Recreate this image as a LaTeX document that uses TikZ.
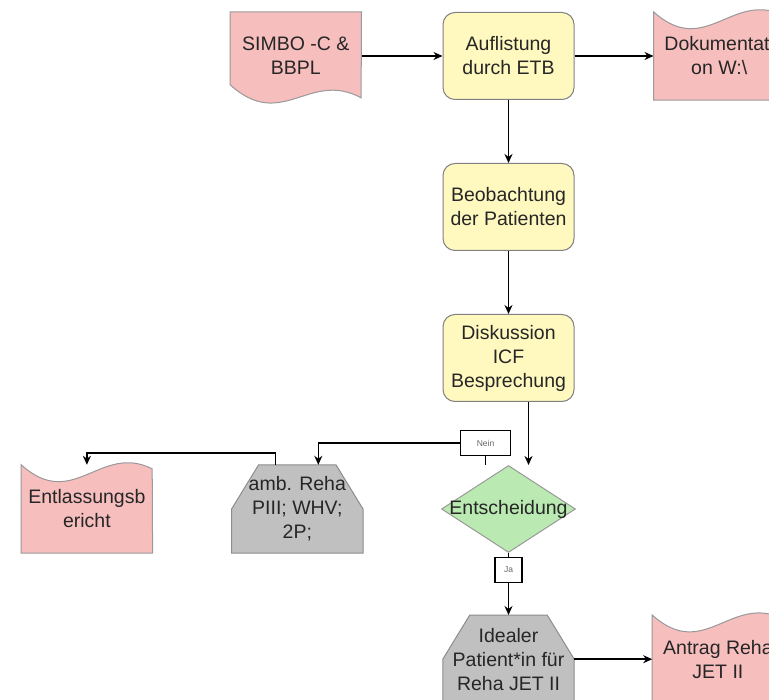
\documentclass[tikz,border=0pt]{standalone}
\usepackage{fontspec}
\setmainfont{Liberation Sans}
\usetikzlibrary{positioning,shapes.geometric,backgrounds,arrows.meta}

\definecolor{procyellow}{RGB}{255,249,192}
\definecolor{docpink}{RGB}{247,190,190}
\definecolor{decgreen}{RGB}{186,234,178}
\definecolor{hexgray}{RGB}{192,192,192}

\begin{document}
\begin{tikzpicture}[x=1pt,y=-1pt,>={Stealth[length=9pt,width=8pt]},
    every node/.style={font=\fontsize{19.5}{24}\selectfont, text=black!85, align=center, inner sep=2pt},
    proc/.style={rectangle, rounded corners=12pt, draw=black!50, fill=procyellow,
        line width=1pt, minimum width=131pt, minimum height=87pt},
    box/.style={minimum width=131pt, minimum height=88pt},
    decision/.style={diamond, draw=black!40, fill=decgreen, line width=1pt, minimum width=134pt,
        minimum height=87pt, inner sep=0pt},
    lab/.style={draw, fill=white, line width=1.2pt, font=\fontsize{8.5}{10}\selectfont,
        text=black!60, minimum height=25pt},
    docshape/.style={draw=black!40, fill=docpink, line width=1pt},
    hexshape/.style={draw=black!45, fill=hexgray, line width=1pt},
    conn/.style={line width=1.5pt}]

    \useasboundingbox (0,0) rectangle (769,700);
    \clip (0,0) rectangle (769,700);

    \node[proc] (auf) at (508.5,56) {Auflistung\\durch ETB};
    \node[proc] (beo) [below=63pt of auf] {Beobachtung\\der Patienten};
    \node[proc] (disk) [below=63pt of beo] {Diskussion\\ICF\\Besprechung};
    \node[decision, label=center:Entscheidung] (ent) [below=63pt of disk] {};
    \node[lab, minimum width=27pt] (ja) [below=4pt of ent] {Ja};
    \node[box] (ideal) [below=62pt of ent] {Idealer\\Patient*in für\\Reha JET II};
    \node[box] (simbo) [left=81pt of auf] {SIMBO -C \&\\BBPL};
    \node[box] (doku) [right=79pt of auf] {Dokumentati\\on W:\textbackslash};
    \node[box] (amb) [left=78pt of ent] {amb. Reha\\PIII; WHV;\\2P;};
    \node[box] (entl) [left=79pt of amb] {Entlassungsb\\ericht};
    \node[box] (antrag) [right=78pt of ideal] {Antrag Reha\\JET II};
    \node[lab, minimum width=50pt] (nein) at ([shift={(-23,-22)}]ent.north) {Nein};

    \begin{scope}[on background layer]
        \draw[docshape] (simbo.north west) -- (simbo.north east)
            -- ([shift={(131,86)}]simbo.north west)
            .. controls ([shift={(79,58)}]simbo.north west) and ([shift={(52,120)}]simbo.north west)
            .. ([shift={(0,73)}]simbo.north west) -- cycle;
        \foreach \n in {entl,doku,antrag}
            \draw[docshape] (\n.south west) -- (\n.south east)
                -- ([shift={(131,4)}]\n.north west)
                .. controls ([shift={(79,-22)}]\n.north west) and ([shift={(52,47)}]\n.north west)
                .. (\n.north west) -- cycle;
        \foreach \n in {amb,ideal}
            \draw[hexshape] (\n.south west) -- (\n.west) -- ([xshift=27pt]\n.north west)
                -- ([xshift=-27pt]\n.north east) -- (\n.east) -- (\n.south east) -- cycle;
    \end{scope}

    \draw[conn,->] (simbo) -- (auf);
    \draw[conn,->] (auf) -- (doku);
    \draw[conn,->] (auf) -- (beo);
    \draw[conn,->] (beo) -- (disk);
    \draw[conn,->] ([xshift=20pt]disk.south) -- ([xshift=20pt]disk.south |- ent.north);
    \draw[conn] ([xshift=-23pt]ent.north) -- (nein);
    \draw[conn,->] (nein) -| ([xshift=21pt]amb.north);
    \draw[conn,->] ([xshift=-22pt]amb.north) -- ++(0,-12) -| (entl.north);
    \draw[conn] (ent) -- (ja);
    \draw[conn,->] (ja) -- (ideal);
    \draw[conn,->] (ideal) -- (antrag);
\end{tikzpicture}
\end{document}
